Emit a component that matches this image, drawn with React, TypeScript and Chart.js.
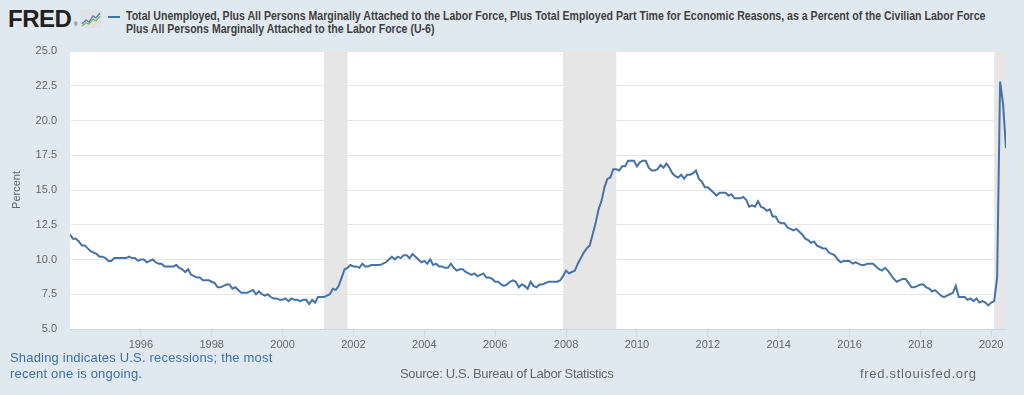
import React, { useEffect, useRef } from "react";
import { Chart, registerables } from "chart.js";

Chart.register(...registerables);

const FONT = '"Liberation Sans", Arial, Helvetica, sans-serif';

// Monthly U-6 rate, starting January 1994
const START_YEAR = 1994;
const u6_1994 = [11.8, 11.5, 11.5, 11.3, 11.0, 11.0, 10.8, 10.6, 10.5, 10.4, 10.2, 10.2];
const u6_1995 = [10.1, 9.9, 9.9, 10.1, 10.1, 10.1, 10.1, 10.1, 10.2, 10.1, 10.1, 9.9];
const u6_1996 = [10.0, 10.0, 9.8, 9.9, 10.0, 9.8, 9.7, 9.7, 9.5, 9.5, 9.5, 9.5];
const u6_1997 = [9.6, 9.4, 9.3, 9.1, 9.3, 8.9, 8.8, 8.7, 8.7, 8.5, 8.5, 8.5];
const u6_1998 = [8.4, 8.3, 8.0, 8.0, 8.1, 8.2, 8.2, 7.9, 8.0, 7.8, 7.6, 7.6];
const u6_1999 = [7.6, 7.7, 7.8, 7.5, 7.7, 7.5, 7.4, 7.5, 7.3, 7.2, 7.2, 7.1];
const u6_2000 = [7.1, 7.2, 7.0, 7.2, 7.1, 7.1, 7.0, 7.1, 7.1, 6.8, 7.1, 6.9];
const u6_2001 = [7.3, 7.3, 7.3, 7.4, 7.5, 7.9, 7.8, 8.1, 8.7, 9.3, 9.4, 9.6];
const u6_2002 = [9.5, 9.5, 9.4, 9.7, 9.5, 9.5, 9.6, 9.6, 9.6, 9.6, 9.7, 9.8];
const u6_2003 = [10.0, 10.2, 10.0, 10.2, 10.1, 10.3, 10.3, 10.1, 10.4, 10.2, 10.0, 9.8];
const u6_2004 = [9.9, 9.7, 10.0, 9.6, 9.7, 9.5, 9.5, 9.4, 9.4, 9.7, 9.4, 9.2];
const u6_2005 = [9.3, 9.3, 9.1, 9.0, 8.9, 9.0, 8.8, 8.9, 9.0, 8.7, 8.7, 8.6];
const u6_2006 = [8.4, 8.4, 8.2, 8.1, 8.2, 8.4, 8.5, 8.4, 8.0, 8.2, 8.1, 7.9];
const u6_2007 = [8.4, 8.1, 8.0, 8.2, 8.2, 8.3, 8.4, 8.4, 8.4, 8.4, 8.5, 8.8];
const u6_2008 = [9.2, 9.0, 9.1, 9.2, 9.7, 10.1, 10.5, 10.8, 11.0, 11.8, 12.6, 13.6];
const u6_2009 = [14.2, 15.2, 15.8, 15.9, 16.5, 16.5, 16.4, 16.7, 16.7, 17.1, 17.1, 17.1];
const u6_2010 = [16.7, 17.0, 17.1, 17.1, 16.6, 16.4, 16.4, 16.5, 16.8, 16.6, 16.9, 16.6];
const u6_2011 = [16.2, 16.0, 15.9, 16.1, 15.8, 16.1, 16.1, 16.2, 16.4, 15.8, 15.6, 15.2];
const u6_2012 = [15.2, 15.0, 14.8, 14.6, 14.8, 14.8, 14.8, 14.6, 14.7, 14.4, 14.4, 14.4];
const u6_2013 = [14.5, 14.3, 13.8, 13.9, 13.8, 14.2, 13.8, 13.7, 13.5, 13.6, 13.1, 13.1];
const u6_2014 = [12.7, 12.6, 12.6, 12.3, 12.2, 12.1, 12.2, 12.0, 11.8, 11.5, 11.4, 11.2];
const u6_2015 = [11.3, 11.0, 10.9, 10.8, 10.8, 10.5, 10.4, 10.3, 10.0, 9.8, 9.9, 9.9];
const u6_2016 = [9.9, 9.7, 9.8, 9.7, 9.6, 9.6, 9.7, 9.7, 9.7, 9.5, 9.3, 9.2];
const u6_2017 = [9.4, 9.2, 8.9, 8.6, 8.4, 8.5, 8.6, 8.6, 8.3, 8.0, 8.0, 8.1];
const u6_2018 = [8.2, 8.2, 8.0, 7.9, 7.7, 7.8, 7.6, 7.4, 7.3, 7.4, 7.5, 7.6];
const u6_2019 = [8.1, 7.3, 7.3, 7.3, 7.1, 7.2, 7.0, 7.2, 6.9, 7.0, 6.9, 6.7];
const u6_2020 = [6.9, 7.0, 8.7, 22.8, 21.2, 18.0];

const u6Values = [
  ...u6_1994, ...u6_1995, ...u6_1996, ...u6_1997, ...u6_1998, ...u6_1999,
  ...u6_2000, ...u6_2001, ...u6_2002, ...u6_2003, ...u6_2004, ...u6_2005,
  ...u6_2006, ...u6_2007, ...u6_2008, ...u6_2009, ...u6_2010, ...u6_2011,
  ...u6_2012, ...u6_2013, ...u6_2014, ...u6_2015, ...u6_2016, ...u6_2017,
  ...u6_2018, ...u6_2019, ...u6_2020,
];

const xTickYears = [1996, 1998, 2000, 2002, 2004, 2006, 2008, 2010, 2012, 2014, 2016, 2018, 2020];
const yTickValues = [5, 7.5, 10, 12.5, 15, 17.5, 20, 22.5, 25];

const recessionStarts = ["2001-03", "2007-12", "2020-02"];
const recessionEnds = ["2001-11", "2009-06", "2020-06"];

const titleLine1 =
  "Total Unemployed, Plus All Persons Marginally Attached to the Labor Force, Plus Total Employed Part Time for Economic Reasons, as a Percent of the Civilian Labor Force";
const titleLine2 = "Plus All Persons Marginally Attached to the Labor Force (U-6)";
const yAxisTitle = "Percent";
const noteLine1 = "Shading indicates U.S. recessions; the most";
const noteLine2 = "recent one is ongoing.";
const sourceText = "Source: U.S. Bureau of Labor Statistics";
const siteText = "fred.stlouisfed.org";

const monthToYear = (s: string) => {
  const [y, m] = s.split("-").map(Number);
  return y + (m - 1) / 12;
};

const recessionPlugin = {
  id: "recessions",
  beforeDatasetsDraw(chart: any) {
    const { ctx, chartArea, scales } = chart;
    const x = scales.x;
    ctx.save();
    ctx.fillStyle = "#e6e6e6";
    recessionStarts.forEach((s, i) => {
      const x0 = x.getPixelForValue(monthToYear(s));
      const x1 = x.getPixelForValue(monthToYear(recessionEnds[i]));
      ctx.fillRect(x0, chartArea.top, x1 - x0, chartArea.bottom - chartArea.top);
    });
    ctx.restore();
  },
};

const plotBgPlugin = {
  id: "plotBg",
  beforeDraw(chart: any) {
    const { ctx, chartArea } = chart;
    ctx.save();
    ctx.fillStyle = "#ffffff";
    ctx.fillRect(chartArea.left, chartArea.top, chartArea.right - chartArea.left, chartArea.bottom - chartArea.top);
    ctx.restore();
  },
};

function FredLogo() {
  return (
    <div style={{ position: "absolute", left: 8, top: 7, height: 24 }}>
      <span
        style={{
          fontFamily: FONT,
          fontWeight: "bold",
          fontSize: 24,
          lineHeight: "24px",
          color: "#231f20",
          letterSpacing: "-0.5px",
        }}
      >
        FRED
      </span>
      <span
        style={{
          position: "absolute",
          left: 66,
          top: 15,
          fontSize: 5,
          lineHeight: "5px",
          color: "#231f20",
        }}
      >
        ®
      </span>
      <svg
        width="22"
        height="18"
        viewBox="0 0 22 18"
        style={{ position: "absolute", left: 72, top: 3 }}
      >
        <rect x="0" y="0" width="22" height="18" rx="2" fill="#dfe3e8" />
        <polyline points="2,14 6,10 9,12 13,6 16,8 20,3" fill="none" stroke="#4c7fbf" strokeWidth="1.3" />
        <polyline points="2,16 6,13 9,14 13,9 16,11 20,6" fill="none" stroke="#7fb95a" strokeWidth="1.3" />
      </svg>
    </div>
  );
}

export default function App() {
  const canvasRef = useRef<HTMLCanvasElement | null>(null);

  useEffect(() => {
    document.body.style.margin = "0";
    document.body.style.background = "#e1e9f0";
    const canvas = canvasRef.current;
    if (!canvas) return;

    const points = u6Values.map((v, i) => ({ x: START_YEAR + i / 12, y: v }));
    const xMax = START_YEAR + (u6Values.length - 1) / 12;

    const chart = new Chart(canvas, {
      type: "line",
      data: {
        datasets: [
          {
            data: points,
            borderColor: "#4572a7",
            borderWidth: 2,
            pointRadius: 0,
            tension: 0,
            fill: false,
          },
        ],
      },
      options: {
        animation: false,
        responsive: false,
        maintainAspectRatio: false,
        devicePixelRatio: 1,
        layout: { padding: { left: 0, right: 18, top: 51, bottom: 0 } },
        plugins: {
          legend: { display: false },
          tooltip: { enabled: false },
          title: { display: false },
        },
        scales: {
          x: {
            type: "linear",
            min: START_YEAR,
            max: xMax,
            afterBuildTicks: (scale: any) => {
              scale.ticks = xTickYears.map((v) => ({ value: v }));
            },
            afterFit: (scale: any) => {
              scale.height = 66;
            },
            grid: {
              drawOnChartArea: false,
              drawTicks: true,
              tickLength: 8,
              color: "#ccd6eb",
            },
            border: { display: true, color: "#ccd6eb" },
            ticks: {
              autoSkip: false,
              maxRotation: 0,
              padding: 1,
              color: "#666666",
              font: { family: FONT, size: 11 },
              callback: (v: any) => String(v),
            },
          },
          y: {
            type: "linear",
            min: 5,
            max: 25,
            afterBuildTicks: (scale: any) => {
              scale.ticks = yTickValues.map((v) => ({ value: v }));
            },
            afterFit: (scale: any) => {
              scale.width = 70;
            },
            grid: { color: "#e6e6e6", drawTicks: false },
            border: { display: false },
            ticks: {
              padding: 13,
              color: "#666666",
              font: { family: FONT, size: 11 },
              callback: (v: any) => Number(v).toFixed(1),
            },
            title: {
              display: true,
              text: yAxisTitle,
              color: "#666666",
              font: { family: FONT, size: 11 },
              padding: { top: 10, bottom: 0 },
            },
          },
        },
      },
      plugins: [plotBgPlugin, recessionPlugin],
    } as any);

    return () => chart.destroy();
  }, []);

  return (
    <div
      style={{
        position: "relative",
        width: 1024,
        height: 395,
        background: "#e1e9f0",
        overflow: "hidden",
        fontFamily: FONT,
      }}
    >
      <FredLogo />
      <div
        style={{
          position: "absolute",
          left: 108,
          top: 16,
          width: 12,
          height: 2,
          background: "#4572a7",
        }}
      />
      <div
        style={{
          position: "absolute",
          left: 126,
          top: 10,
          fontSize: 12,
          fontWeight: "bold",
          lineHeight: "13px",
          color: "#404040",
          whiteSpace: "nowrap",
          transform: "scaleX(0.88)",
          transformOrigin: "0 0",
        }}
      >
        <div>{titleLine1}</div>
        <div>{titleLine2}</div>
      </div>
      <canvas
        ref={canvasRef}
        width={1024}
        height={395}
        style={{ position: "absolute", left: 0, top: 0, width: 1024, height: 395 }}
      />
      <div
        style={{
          position: "absolute",
          left: 10,
          top: 350,
          fontSize: 13,
          lineHeight: "16px",
          letterSpacing: "0.19px",
          color: "#3e6fb0",
          whiteSpace: "nowrap",
        }}
      >
        <div>{noteLine1}</div>
        <div>{noteLine2}</div>
      </div>
      <div
        style={{
          position: "absolute",
          left: 400,
          top: 366,
          fontSize: 13,
          lineHeight: "16px",
          letterSpacing: "-0.33px",
          color: "#666666",
          whiteSpace: "nowrap",
        }}
      >
        {sourceText}
      </div>
      <div
        style={{
          position: "absolute",
          left: 860,
          top: 366,
          fontSize: 13,
          lineHeight: "16px",
          letterSpacing: "0.7px",
          color: "#666666",
          whiteSpace: "nowrap",
        }}
      >
        {siteText}
      </div>
    </div>
  );
}
